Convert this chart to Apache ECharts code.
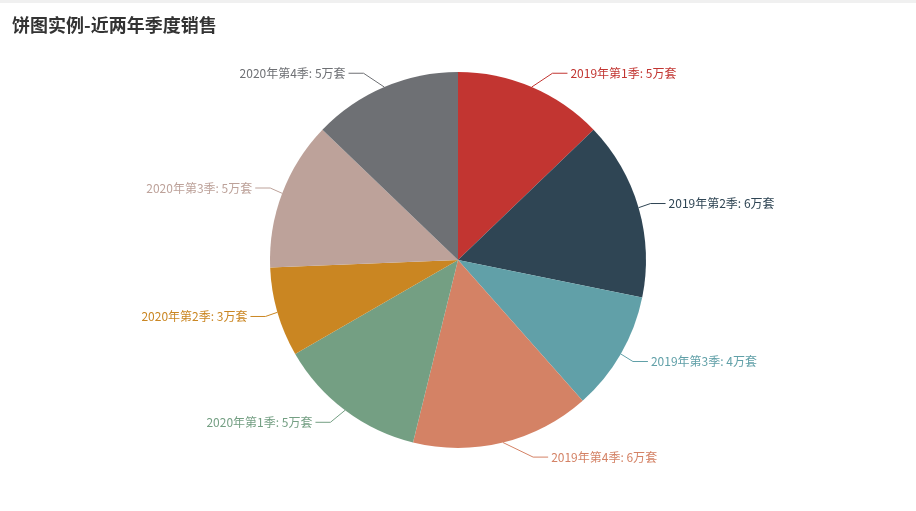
<!DOCTYPE html>
<html>
<head>
<meta charset="utf-8">
<script src="https://cdn.jsdelivr.net/npm/echarts@6/dist/echarts.min.js"></script>
<style>
    html, body { margin: 0; padding: 0; background: #fff; }
    #main { width: 916px; height: 508px; border-top: 3px solid #f0f0f0; }
</style>
</head>
<body>
<div id="main"></div>
<script>
var quarters = ['2019年第1季', '2019年第2季', '2019年第3季', '2019年第4季', '2020年第1季', '2020年第2季', '2020年第3季', '2020年第4季'];
var sales = [5, 6, 4, 6, 5, 3, 5, 5];
var colors = ['#c23531', '#2f4554', '#61a0a8', '#d48265', '#749f83', '#ca8622', '#bda29a', '#6e7074'];

(function () {

    var CX = 458, CY = 257, R = 188;
    var LEN = 15, LEN2 = 15;

    // 初始化echarts实例
    var myChart = echarts.init(document.getElementById('main'));

    var total = sales.reduce(function (a, b) { return a + b; }, 0);

    // 旧版(v4)的标签布局：标签落在半径 R+LEN+LEN2 的圆上
    var layouts = [];
    var acc = 0;
    sales.forEach(function (v, i) {
        var mid = (acc + v / 2) / total * Math.PI * 2;
        acc += v;
        var sx = Math.sin(mid), cy = Math.cos(mid);
        var dir = sx < 0 ? -1 : 1;
        var y = CY - (R + LEN) * cy;
        var dy = Math.abs(y - CY);
        var dx = dy < R + LEN
            ? Math.sqrt((R + LEN + LEN2) * (R + LEN + LEN2) - dy * dy)
            : Math.abs((R + LEN) * sx);
        var tx = CX + dx * dir;
        var endX = tx - 3 * dir;
        layouts[i] = {
            x: tx,
            y: y,
            align: dir > 0 ? 'left' : 'right',
            verticalAlign: 'middle',
            labelLinePoints: [
                [CX + R * sx, CY - R * cy],
                [endX - LEN2 * dir, y],
                [endX, y]
            ]
        };
    });

    var data = quarters.map(function (name, i) {
        return {
            name: name,
            value: sales[i],
            label: { color: colors[i] },
            labelLine: { lineStyle: { color: colors[i] } }
        };
    });

    var option = {
        color: colors,
        title: {
            text: '饼图实例-近两年季度销售',
            left: 7,
            top: 8,
            textStyle: {
                fontFamily: 'Noto Sans CJK SC',
                fontSize: 18,
                fontWeight: 'bold',
                color: '#333'
            }
        },
        series: [
            {
                name: '销售',
                type: 'pie',
                radius: R,
                center: [CX, CY],
                startAngle: 90,
                data: data,
                label: {
                    formatter: '{b}: {c}万套',
                    fontFamily: 'Noto Sans CJK SC',
                    fontSize: 12
                },
                labelLine: {
                    length: LEN,
                    length2: LEN2,
                    smooth: false
                },
                labelLayout: function (params) {
                    return layouts[params.dataIndex];
                },
                itemStyle: {
                    borderWidth: 0
                }
            }
        ]
    };

    // 使用刚指定的配置项和数据显示图表。
    myChart.setOption(option);

})();
</script>
</body>
</html>
